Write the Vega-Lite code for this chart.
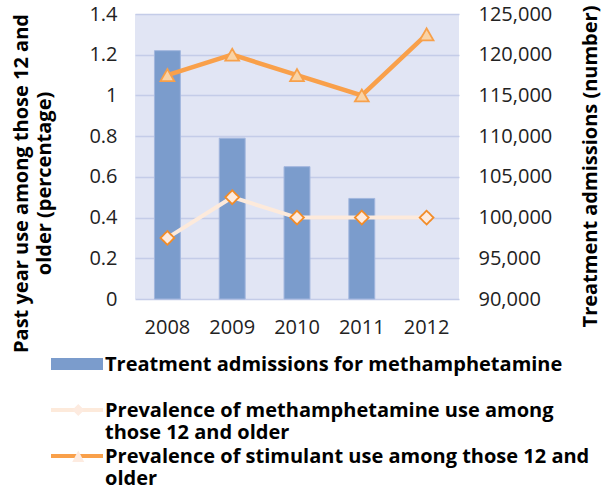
{
  "$schema": "https://vega.github.io/schema/vega-lite/v6.json",
  "autosize": {"type": "none"},
  "padding": {"left": 135, "top": 14, "right": 147, "bottom": 196},
  "width": 324,
  "height": 285,
  "background": "white",
  "config": {
    "font": "Open Sans",
    "view": {"stroke": null, "fill": "#e1e5f4"},
    "axis": {"labelFont": "Open Sans", "titleFont": "Open Sans", "labelColor": "#222222", "titleColor": "#000000"}
  },
  "data": {
    "values": [
      {"year": "2008", "adm": 120500, "meth": 0.3, "stim": 1.1},
      {"year": "2009", "adm": 109750, "meth": 0.5, "stim": 1.2},
      {"year": "2010", "adm": 106250, "meth": 0.4, "stim": 1.1},
      {"year": "2011", "adm": 102350, "meth": 0.4, "stim": 1.0},
      {"year": "2012", "adm": null, "meth": 0.4, "stim": 1.3}
    ]
  },
  "encoding": {
    "x": {
      "field": "year",
      "type": "ordinal",
      "scale": {"paddingInner": 0.6, "paddingOuter": 0.3},
      "axis": {"title": null, "labelAngle": 0, "labelFontSize": 20, "labelPadding": 18, "ticks": false, "domain": false}
    }
  },
  "layer": [
    {
      "layer": [
        {
          "mark": {"type": "bar", "stroke": "#a2b6de", "strokeWidth": 1},
          "encoding": {
            "y": {
              "field": "adm",
              "type": "quantitative",
              "scale": {"domain": [90000, 125000], "zero": false},
              "axis": {
                "orient": "right",
                "values": [90000, 95000, 100000, 105000, 110000, 115000, 120000, 125000],
                "format": ",d",
                "grid": false,
                "domain": false,
                "ticks": false,
                "labelFontSize": 20,
                "labelPadding": 19,
                "title": "Treatment admissions (number)",
                "titleFontSize": 20,
                "titleFontWeight": "bold",
                "titleAngle": 270,
                "titleBaseline": "top",
                "titleX": 121,
                "titleY": 152
              }
            },
            "y2": {"datum": 90000},
            "color": {
              "datum": "A",
              "scale": {"domain": ["A", "B", "C"], "range": ["#7b9ccc", "#fdeadb", "#f9a04a"]},
              "legend": {
                "orient": "none",
                "legendX": -89,
                "legendY": 347,
                "zindex": 0,
                "title": null,
                "padding": 0,
                "symbolSize": 100,
                "symbolStrokeWidth": 4,
                "symbolOpacity": 1,
                "symbolType": {"expr": "datum.value == 'A' ? 'M-0.6,-2.2H9V-0.6H-0.6Z' : 'M-1,-1.4H9.4'"},
                "labelOffset": 39,
                "rowPadding": 4,
                "labelBaseline": "alphabetic",
                "labelLineHeight": 24,
                "labelFont": "Open Sans",
                "labelFontSize": 20,
                "labelFontWeight": "bold",
                "labelColor": "#000000",
                "labelLimit": 600,
                "labelExpr": "datum.value == 'A' ? ['Treatment admissions for methamphetamine', ' '] : datum.value == 'B' ? ['Prevalence of methamphetamine use among', 'those 12 and older'] : ['Prevalence of stimulant use among those 12 and', 'older']"
              }
            }
          }
        }
      ]
    },
    {
      "layer": [
        {
          "mark": {"type": "line", "strokeWidth": 4},
          "encoding": {
            "y": {
              "field": "meth",
              "type": "quantitative",
              "scale": {"domain": [0, 1.4]},
              "axis": {
                "orient": "left",
                "values": [0, 0.2, 0.4, 0.6, 0.8, 1, 1.2, 1.4],
                "format": "~g",
                "grid": true,
                "gridColor": "#c4cce8",
                "gridWidth": 1.5,
                "domain": false,
                "ticks": false,
                "labelFontSize": 20,
                "labelPadding": 18,
                "title": ["Past year use among those 12 and", "older (percentage)"],
                "titleFontSize": 20,
                "titleFontWeight": "bold",
                "titleLineHeight": 23,
                "titleX": -104,
                "titleY": 169
              }
            },
            "color": {"datum": "B"}
          }
        },
        {
          "mark": {"type": "line", "strokeWidth": 4.5},
          "encoding": {
            "y": {"field": "stim", "type": "quantitative"},
            "color": {"datum": "C"}
          }
        },
        {
          "mark": {"type": "point", "shape": "diamond", "filled": true, "fill": "#fdebe0", "stroke": "#f28c28", "strokeWidth": 1.8, "size": 190, "opacity": 1},
          "encoding": {
            "y": {"field": "meth", "type": "quantitative"},
            "strokeDash": {
              "datum": "b",
              "scale": {"domain": ["a", "b", "c"], "range": [[1, 0], [1, 0], [1, 0]]},
              "legend": {
                "orient": "none",
                "legendX": -89,
                "legendY": 347,
                "zindex": 2,
                "title": null,
                "padding": 0,
                "symbolSize": 100,
                "symbolStrokeWidth": 1.5,
                "symbolOpacity": 1,
                "symbolType": {"expr": "datum.value == 'a' ? 'M0,0Z' : datum.value == 'b' ? 'M4.45,-2.6L5.65,-1.4L4.45,-0.2L3.25,-1.4Z' : 'M4.45,-2.7L5.65,-0.4L3.25,-0.4Z'"},
                "symbolFillColor": {"expr": "datum.value == 'b' ? '#fdebe0' : '#f9d3a6'"},
                "symbolStrokeColor": {"expr": "datum.value == 'b' ? '#f28c28' : '#f7a04a'"},
                "labelOffset": 39,
                "rowPadding": 4,
                "labelBaseline": "alphabetic",
                "labelLineHeight": 24,
                "labelFont": "Open Sans",
                "labelFontSize": 20,
                "labelFontWeight": "bold",
                "labelColor": "transparent",
                "labelOpacity": 0,
                "labelLimit": 600,
                "labelExpr": "datum.value == 'a' ? ['Treatment admissions for methamphetamine', ' '] : datum.value == 'b' ? ['Prevalence of methamphetamine use among', 'those 12 and older'] : ['Prevalence of stimulant use among those 12 and', 'older']"
              }
            }
          }
        },
        {
          "mark": {"type": "point", "shape": "triangle-up", "filled": true, "fill": "#f9d3a6", "stroke": "#f7a04a", "strokeWidth": 1.8, "size": 190, "opacity": 1},
          "encoding": {
            "y": {"field": "stim", "type": "quantitative"},
            "strokeDash": {"datum": "c"}
          }
        }
      ]
    }
  ],
  "resolve": {"scale": {"y": "independent"}}
}
